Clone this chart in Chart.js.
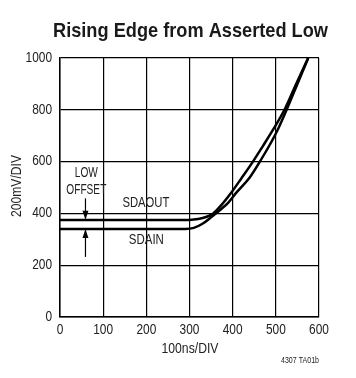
<!DOCTYPE html>
<html><head><meta charset="utf-8">
<script src="https://cdn.jsdelivr.net/npm/chart.js@4"></script>
<style>html,body{margin:0;padding:0;background:#fff}#wrap{width:356px;height:378px}</style>
</head><body><div id="wrap"><canvas id="c" width="356" height="378"></canvas></div>
<script>
const titleText = "Rising Edge from Asserted Low";
const xTitle = "100ns/DIV";
const yTitle = "200mV/DIV";
const footNote = "4307 TA01b";
const xTicks = [0,100,200,300,400,500,600];
const yTicks = [0,200,400,600,800,1000];
const sdaoutTime  = [0,300,320,340,355,370,397,420,447,470,495,520,547,575];
const sdaoutValue = [375,375,378,387,400,425,481,535,600,660,727,800,900,1000];
const sdainTime   = [0,290,310,330,350,370,390,410,440,463,486,505,525,550,575];
const sdainValue  = [340,340,344,360,385,412,442,483,540,600,665,725,800,900,1000];

const F = "'Liberation Sans',Arial,sans-serif";
const toPts = (t,v)=>t.map((x,i)=>({x:x,y:v[i]}));

function txt(c, s, x, y, size, opts){
  opts = opts || {};
  c.save();
  c.font = (opts.bold?'bold ':'') + size + 'px ' + F;
  const w = c.measureText(s).width;
  const k = opts.width ? opts.width / w : (opts.k || 0.85);
  c.translate(x, y);
  if (opts.rot) c.rotate(opts.rot);
  c.scale(k, 1);
  c.textAlign = opts.align || 'center';
  c.textBaseline = opts.base || 'middle';
  c.fillStyle = opts.color || '#222';
  c.fillText(s, 0, 0);
  c.restore();
}

const deco = {
  id:'deco',
  afterDraw(chart){
    const c = chart.ctx, xs = chart.scales.x, ys = chart.scales.y;
    const X = v=>xs.getPixelForValue(v), Y = v=>ys.getPixelForValue(v);
    txt(c, titleText, 190.5, 37, 21, {bold:true, width:275, base:'alphabetic', color:'#1a1a1a'});
    xTicks.forEach(v=>txt(c, String(v), X(v), 330, 14, {k:0.85}));
    yTicks.forEach(v=>txt(c, String(v), 52, Y(v), 14, {k:0.85, align:'right'}));
    txt(c, xTitle, 190, 349, 15, {width:57});
    txt(c, yTitle, 17, 186, 15, {width:62, rot:-Math.PI/2});
    txt(c, footNote, 319, 361, 9, {width:38, align:'right'});
    // annotations
    txt(c, "LOW", X(61), Y(556), 14, {width:23});
    txt(c, "OFFSET", X(61), Y(490), 14, {width:40});
    txt(c, "SDAOUT", X(199), Y(440), 14, {width:47});
    txt(c, "SDAIN", X(200), Y(297), 14, {width:35});
    // arrows
    c.save();
    c.strokeStyle='#000'; c.fillStyle='#000'; c.lineWidth=1.2;
    const ax = X(59);
    c.beginPath(); c.moveTo(ax, Y(458)); c.lineTo(ax, Y(380)); c.stroke();
    c.beginPath(); c.moveTo(ax, Y(376)); c.lineTo(ax-3, Y(410)); c.lineTo(ax+3, Y(410)); c.closePath(); c.fill();
    c.beginPath(); c.moveTo(ax, Y(232)); c.lineTo(ax, Y(335)); c.stroke();
    c.beginPath(); c.moveTo(ax, Y(339)); c.lineTo(ax-3, Y(305)); c.lineTo(ax+3, Y(305)); c.closePath(); c.fill();
    c.beginPath(); c.moveTo(ax-4, Y(340)); c.lineTo(ax+4, Y(340)); c.stroke();
    c.restore();
  }
};

new Chart(document.getElementById('c'), {
  type:'line',
  data:{datasets:[
    {label:'SDAOUT', data:toPts(sdaoutTime,sdaoutValue), borderColor:'#000', borderWidth:2.5, pointRadius:0, cubicInterpolationMode:'monotone', fill:false},
    {label:'SDAIN', data:toPts(sdainTime,sdainValue), borderColor:'#000', borderWidth:2.5, pointRadius:0, cubicInterpolationMode:'monotone', fill:false}
  ]},
  options:{
    responsive:false, animation:false, devicePixelRatio:1,
    layout:{padding:{top:58,right:37,left:0,bottom:0}},
    plugins:{legend:{display:false}, tooltip:{enabled:false}, title:{display:false}},
    scales:{
      x:{type:'linear', min:0, max:600,
        afterBuildTicks(s){ s.ticks = xTicks.map(v=>({value:v})); },
        afterFit(s){ s.height = 61; },
        grid:{color:'#000', lineWidth:1.2, drawTicks:false},
        border:{color:'#000', width:1.5},
        ticks:{display:false}
      },
      y:{type:'linear', min:0, max:1000,
        afterBuildTicks(s){ s.ticks = yTicks.map(v=>({value:v})); },
        afterFit(s){ s.width = 60; },
        grid:{color:'#000', lineWidth:1.2, drawTicks:false},
        border:{color:'#000', width:1.5},
        ticks:{display:false}
      }
    }
  },
  plugins:[deco]
});
</script></body></html>
